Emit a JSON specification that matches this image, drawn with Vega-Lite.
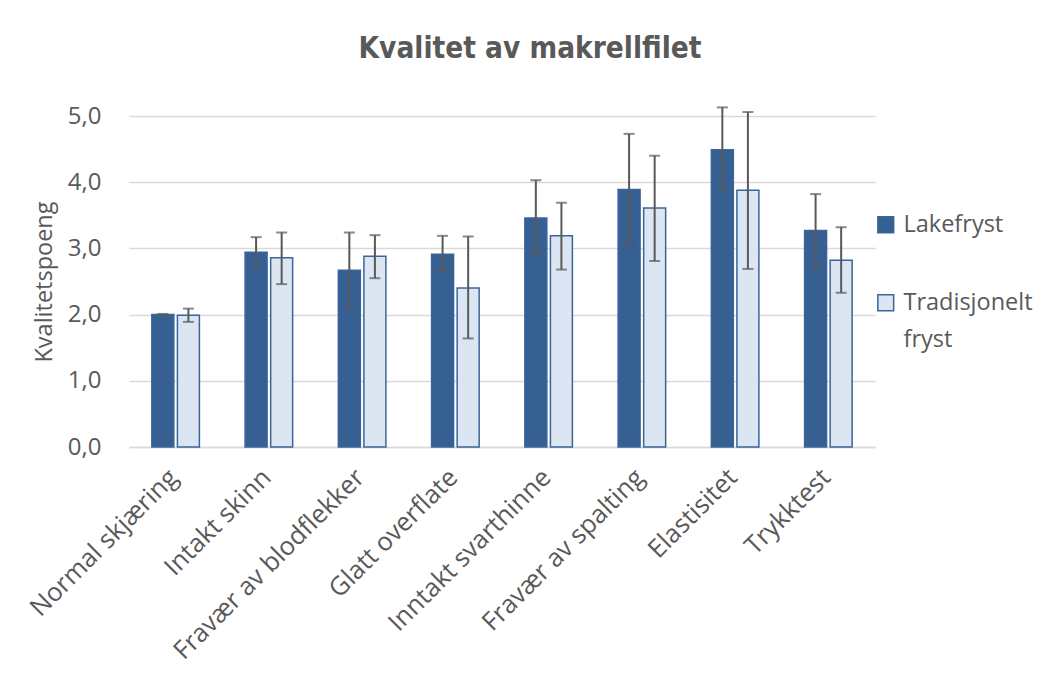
{
  "$schema": "https://vega.github.io/schema/vega-lite/v6.json",
  "width": 746,
  "height": 331,
  "padding": {"left": 25, "top": 33, "right": 0, "bottom": 0},
  "background": "white",
  "title": {
    "text": "Kvalitet av makrellfilet",
    "font": "DejaVu Sans Condensed",
    "fontSize": 29.5,
    "fontWeight": "bold",
    "color": "#595959",
    "anchor": "middle",
    "frame": "group",
    "dx": 28,
    "offset": 40
  },
  "data": {
    "values": [
      {"kat": "Normal skjæring", "serie": "Lakefryst", "verdi": 2.0, "lo": 1.99, "hi": 2.01},
      {"kat": "Normal skjæring", "serie": "Tradisjonelt fryst", "verdi": 1.99, "lo": 1.89, "hi": 2.09},
      {"kat": "Intakt skinn", "serie": "Lakefryst", "verdi": 2.94, "lo": 2.73, "hi": 3.17},
      {"kat": "Intakt skinn", "serie": "Tradisjonelt fryst", "verdi": 2.86, "lo": 2.46, "hi": 3.24},
      {"kat": "Fravær av blodflekker", "serie": "Lakefryst", "verdi": 2.67, "lo": 2.11, "hi": 3.24},
      {"kat": "Fravær av blodflekker", "serie": "Tradisjonelt fryst", "verdi": 2.88, "lo": 2.55, "hi": 3.2},
      {"kat": "Glatt overflate", "serie": "Lakefryst", "verdi": 2.91, "lo": 2.66, "hi": 3.19},
      {"kat": "Glatt overflate", "serie": "Tradisjonelt fryst", "verdi": 2.4, "lo": 1.64, "hi": 3.18},
      {"kat": "Inntakt svarthinne", "serie": "Lakefryst", "verdi": 3.46, "lo": 2.91, "hi": 4.03},
      {"kat": "Inntakt svarthinne", "serie": "Tradisjonelt fryst", "verdi": 3.19, "lo": 2.68, "hi": 3.69},
      {"kat": "Fravær av spalting", "serie": "Lakefryst", "verdi": 3.89, "lo": 3.06, "hi": 4.73},
      {"kat": "Fravær av spalting", "serie": "Tradisjonelt fryst", "verdi": 3.61, "lo": 2.81, "hi": 4.4},
      {"kat": "Elastisitet", "serie": "Lakefryst", "verdi": 4.49, "lo": 3.87, "hi": 5.13},
      {"kat": "Elastisitet", "serie": "Tradisjonelt fryst", "verdi": 3.88, "lo": 2.69, "hi": 5.06},
      {"kat": "Trykktest", "serie": "Lakefryst", "verdi": 3.27, "lo": 2.72, "hi": 3.82},
      {"kat": "Trykktest", "serie": "Tradisjonelt fryst", "verdi": 2.82, "lo": 2.33, "hi": 3.32}
    ]
  },
  "encoding": {
    "x": {
      "field": "kat",
      "type": "nominal",
      "sort": null,
      "scale": {"paddingInner": 0.49, "paddingOuter": 0.245},
      "axis": {
        "title": null,
        "labelAngle": -45,
        "labelAlign": "right",
        "labelBaseline": "middle",
        "labelFont": "Open Sans",
        "labelFontSize": 25.5,
        "labelColor": "#595959",
        "labelPadding": 26,
        "labelOffset": -2,
        "ticks": false,
        "domainColor": "#d9d9d9",
        "domainWidth": 1.5,
        "labelLimit": 400
      }
    },
    "xOffset": {
      "field": "serie",
      "type": "nominal",
      "scale": {"paddingInner": 0.14}
    }
  },
  "layer": [
    {
      "mark": {"type": "bar", "stroke": "#3a659b", "strokeWidth": 1.5},
      "encoding": {
        "y": {
          "field": "verdi",
          "type": "quantitative",
          "scale": {"domain": [0, 5], "nice": false},
          "axis": {
            "title": "Kvalitetspoeng",
            "titleFont": "Open Sans",
            "titleFontSize": 23.5,
            "titleFontWeight": "normal",
            "titleColor": "#595959",
            "titlePadding": 11,
            "values": [0, 1, 2, 3, 4, 5],
            "labelExpr": "replace(format(datum.value, '.1f'), '.', ',')",
            "labelFont": "Open Sans",
            "labelFontSize": 24,
            "labelColor": "#595959",
            "labelPadding": 28,
            "ticks": false,
            "domain": false,
            "gridColor": "#d9d9d9",
            "gridWidth": 1.5
          }
        },
        "fill": {
          "field": "serie",
          "type": "nominal",
          "scale": {"domain": ["Lakefryst", "Tradisjonelt fryst"], "range": ["#376092", "#dce6f2"]},
          "legend": {
            "title": null,
            "orient": "none",
            "legendX": 745,
            "legendY": 97,
            "symbolType": "square",
            "symbolSize": 250,
            "symbolStrokeColor": "#3a659b",
            "symbolStrokeWidth": 1.5,
            "labelFont": "Open Sans",
            "labelFontSize": 23.5,
            "labelColor": "#595959",
            "labelOffset": 6,
            "rowPadding": 53,
            "labelLimit": 300,
            "labelExpr": "datum.label == 'Tradisjonelt fryst' ? ['Tradisjonelt', 'fryst'] : datum.label"
          }
        }
      }
    },
    {
      "mark": {"type": "rule", "color": "#595959", "strokeWidth": 2},
      "encoding": {
        "y": {"field": "lo", "type": "quantitative"},
        "y2": {"field": "hi"}
      }
    },
    {
      "mark": {"type": "tick", "color": "#595959", "thickness": 2, "size": 11},
      "encoding": {
        "y": {"field": "lo", "type": "quantitative"}
      }
    },
    {
      "mark": {"type": "tick", "color": "#595959", "thickness": 2, "size": 11},
      "encoding": {
        "y": {"field": "hi", "type": "quantitative"}
      }
    }
  ],
  "config": {
    "view": {"stroke": null},
    "style": {"guide-label": {"lineHeight": 37}}
  }
}
